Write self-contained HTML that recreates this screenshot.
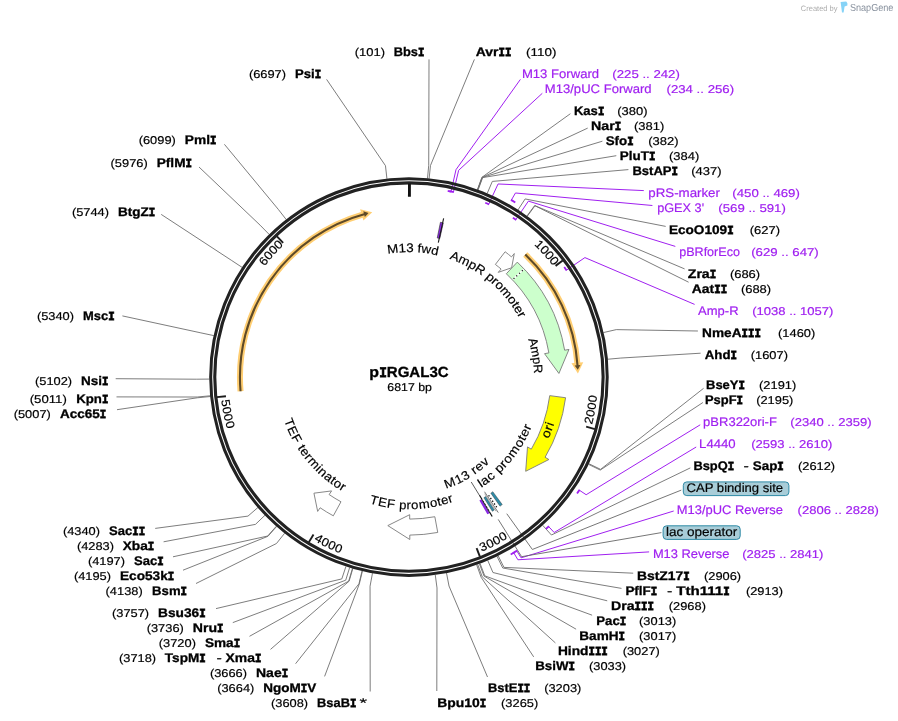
<!DOCTYPE html>
<html><head><meta charset="utf-8"><title>pIRGAL3C</title>
<style>
html,body{margin:0;padding:0;background:#fff;}
svg{display:block;will-change:transform;font-family:"Liberation Sans",sans-serif;text-rendering:geometricPrecision;}
</style></head><body>
<svg width="898" height="721" viewBox="0 0 898 721">
<rect width="898" height="721" fill="#fff"/>
<defs><path id="tp1" d="M526.93 238.52 A182 182 0 0 1 558.87 273.91"/><path id="tp2" d="M581.32 432 A180.9 180.9 0 0 0 589.67 385.19"/><path id="tp3" d="M469.4 547.6 A180.9 180.9 0 0 0 511.74 525.96"/><path id="tp4" d="M309.67 528.32 A180.9 180.9 0 0 0 352.5 548.97"/><path id="tp5" d="M228.47 389.42 A180.9 180.9 0 0 0 237.92 436.02"/><path id="tp6" d="M258.88 274.13 A182 182 0 0 1 290.76 238.7"/><path id="tp7" d="M381.43 255.17 A125 125 0 0 1 444.08 257.14"/><path id="tp8" d="M443.02 256.83 A125 125 0 0 1 522.22 324.24"/><path id="tp9" d="M525.92 333.03 A125 125 0 0 1 533.91 380.25"/><path id="tp10" d="M537.29 442.41 A144 144 0 0 0 548.15 413.96"/><path id="tp11" d="M470.99 484.12 A123.7 123.7 0 0 0 525.97 417.19"/><path id="tp12" d="M437.51 482.29 A109 109 0 0 0 488.03 452.12"/><path id="tp13" d="M365.51 492.81 A123.6 123.6 0 0 0 456.8 491.06"/><path id="tp14" d="M290.13 411.14 A123.6 123.6 0 0 0 352.87 487.24"/></defs>
<g fill="none" stroke="#6e6e6e" stroke-width="0.9"><path d="M474.4 59.4 L430.48 165.49 L429.14 178.62"/><path d="M570.4 113.7 L481.93 177.31 L477.4 189.71"/><path d="M587.7 128.1 L482.12 177.38 L477.58 189.77"/><path d="M602.4 141.2 L482.3 177.45 L477.75 189.84"/><path d="M616.3 155.7 L482.67 177.58 L478.09 189.97"/><path d="M628.4 169.6 L492.32 181.42 L487.15 193.57"/><path d="M665.7 226.4 L525.14 198.94 L517.93 210"/><path d="M684.6 268.9 L534.65 205.52 L526.85 216.17"/><path d="M688.6 282.2 L534.97 205.75 L527.15 216.38"/><path d="M697.9 331 L616.28 329.62 L603.42 332.57"/><path d="M700.6 353.2 L620.8 358.06 L607.65 359.24"/><path d="M703.6 388.3 L600.6 469.36 L588.71 463.63"/><path d="M702.9 402.5 L600.26 470.06 L588.39 464.29"/><path d="M690.3 467.9 L551.45 535.01 L542.6 525.21"/><path d="M633.2 573.2 L503.98 567.39 L498.08 555.58"/><path d="M621.5 588.4 L502.75 568 L496.93 556.15"/><path d="M607.2 600.8 L492.95 572.51 L487.74 560.38"/><path d="M592.1 615.2 L484.78 575.82 L480.07 563.49"/><path d="M576.1 629.2 L484.05 576.1 L479.39 563.75"/><path d="M555.4 642.9 L482.21 576.79 L477.66 564.39"/><path d="M533.7 656.9 L481.1 577.19 L476.63 564.77"/><path d="M487.5 677 L449 586 L446.51 573.03"/><path d="M436.8 691 L437 587.94 L435.26 574.86"/><path d="M429 59.4 L428.72 165.32 L427.49 178.46"/><path d="M326.6 79.4 L385.47 165.7 L386.93 178.82"/><path d="M224.4 144.3 L278.24 209.3 L286.35 219.71"/><path d="M199 167 L260.1 225.16 L269.34 234.59"/><path d="M161.2 214.4 L231.25 260.21 L242.27 267.47"/><path d="M122.4 315.9 L200.9 332.87 L213.81 335.62"/><path d="M115.7 378.7 L196.26 379.21 L209.46 379.08"/><path d="M116.5 396.9 L197.18 397.02 L210.33 395.78"/><path d="M117 409.7 L197.26 397.8 L210.4 396.51"/><path d="M155.2 528.4 L247.96 516.11 L257.95 507.48"/><path d="M163.6 541.8 L255.48 524.37 L265 515.23"/><path d="M173 556.8 L267.62 536.06 L276.39 526.19"/><path d="M183 570.2 L267.92 536.32 L276.67 526.44"/><path d="M196 583.5 L276.47 543.5 L284.69 533.18"/><path d="M216 608.6 L341.8 578.92 L345.96 566.4"/><path d="M232.8 622.6 L345.72 580.18 L349.64 567.58"/><path d="M249.5 636.3 L348.72 581.09 L352.46 568.43"/><path d="M270.5 649.4 L349.09 581.2 L352.81 568.54"/><path d="M295.6 663.7 L358.94 583.84 L362.04 571.01"/><path d="M324.6 676.4 L359.32 583.93 L362.4 571.09"/><path d="M370.2 691.5 L370.06 586.21 L372.47 573.24"/></g>
<g fill="none" stroke="#a020f0" stroke-width="1"><path d="M520.4 79.4 L456 169.67 L451.05 191.51"/><path d="M542.3 93.3 L458.67 170.29 L453.44 192.07"/><path d="M643.8 190.6 L498.06 183.97 L488.67 204.3"/><path d="M652.4 205.5 L515.46 192.99 L511.35 200.08"/><path d="M675.3 246.4 L528.41 201.11 L515.83 219.65"/><path d="M694.6 304.4 L584.91 257.6 L566.38 270.19"/><path d="M700.2 424.8 L586.17 494.72 L579.33 490.19"/><path d="M696.2 447 L554.19 532.49 L548.59 526.5"/><path d="M673.7 511 L521.09 557.84 L516.77 550.87"/><path d="M649.1 551.9 L517.91 559.77 L513.71 552.73"/></g>
<g fill="none" stroke="#666" stroke-width="0.9"><path d="M681.3 490.1 L532.36 549.48 L506.75 513.7"/><path d="M661.4 532.6 L521.61 556.69 L498.22 519.42"/></g>
<circle cx="408.95" cy="377.1" r="198.28" fill="none" stroke="#222" stroke-width="3.0"/><circle cx="408.95" cy="377.1" r="194.18" fill="none" stroke="#222" stroke-width="3.1"/>
<g fill="none" stroke="#a020f0" stroke-width="1.8"><path d="M447.71 190.79 A190.3 190.3 0 0 1 451.47 191.61"/><path d="M449.25 191.12 A190.3 190.3 0 0 1 453.86 192.17"/><path d="M485.24 202.76 A190.3 190.3 0 0 1 489.07 204.49"/><path d="M510.95 199.85 A204.5 204.5 0 0 1 515.31 202.44"/><path d="M512.84 217.66 A190.3 190.3 0 0 1 516.18 219.89"/><path d="M564.23 267.1 A190.3 190.3 0 0 1 566.62 270.55"/><path d="M579.59 489.8 A204.5 204.5 0 0 1 577.06 493.54"/><path d="M548.93 526.18 A204.5 204.5 0 0 1 545.89 528.98"/><path d="M517.16 550.63 A204.5 204.5 0 0 1 512.82 553.26"/><path d="M514.1 552.49 A204.5 204.5 0 0 1 510.7 554.49"/></g>
<path d="M409.46 183.6 L409.42 196.7" stroke="#111" stroke-width="2.9"/><path d="M562.7 260.44 L555.53 265.88" stroke="#1c1c1c" stroke-width="1.9"/><path d="M594.82 429.06 L586.16 426.64" stroke="#1c1c1c" stroke-width="1.9"/><path d="M479.91 556.58 L476.6 548.21" stroke="#1c1c1c" stroke-width="1.9"/><path d="M308.87 542.12 L313.53 534.43" stroke="#1c1c1c" stroke-width="1.9"/><path d="M216.99 397.12 L225.94 396.19" stroke="#1c1c1c" stroke-width="1.9"/><path d="M276.97 236.28 L283.12 242.85" stroke="#1c1c1c" stroke-width="1.9"/>
<path d="M525.28 254.51 A169 169 0 0 1 577.41 363.66" fill="none" stroke="#ffce72" stroke-width="6.0"/><path d="M577.91 373.56 L583.22 362.28 L571.46 363.28Z" fill="#ffce72"/><path d="M525.28 254.51 A169 169 0 0 1 577.59 366.05" fill="none" stroke="#5e4a28" stroke-width="2.1"/><path d="M577.79 369.76 L580.42 364.97 L574.64 365.38Z" fill="#5e4a28"/><path d="M240.54 391.24 A169 169 0 0 1 362.62 214.58" fill="none" stroke="#ffce72" stroke-width="6.0"/><path d="M372.23 212.14 L360.12 209.15 L363.42 220.49Z" fill="#ffce72"/><path d="M240.54 391.24 A169 169 0 0 1 364.93 213.93" fill="none" stroke="#5e4a28" stroke-width="2.1"/><path d="M368.53 213.01 L363.31 211.37 L364.85 216.96Z" fill="#5e4a28"/>
<path d="M495.39 264.44 L505.13 251.75 A158 158 0 0 1 511.46 256.87 L514.31 253.52 L511.63 267.75 L498.22 272.39 L501.08 269.04 A142 142 0 0 0 495.39 264.44Z" fill="#fff" stroke="#7a7a7a" stroke-width="0.9" stroke-linejoin="miter"/><path d="M506.34 273.76 L517.31 262.11 A158 158 0 0 1 564.64 350.2 L568.98 349.45 L558.91 373.44 L544.54 353.67 L548.88 352.92 A142 142 0 0 0 506.34 273.76Z" fill="#ccffcc" stroke="#7a7a7a" stroke-width="0.9" stroke-linejoin="miter"/><path d="M512.9 279.48 L523.69 269.35" stroke="#fff" stroke-width="1.4"/><path d="M513.56 278.87 L523.69 269.35" stroke="#111" stroke-width="1.2" stroke-dasharray="1.2 2.6"/><path d="M549.74 395.63 L565.6 397.72 A158 158 0 0 1 545.09 457.28 L548.88 459.52 L525.69 471.29 L527.51 446.93 L531.31 449.16 A142 142 0 0 0 549.74 395.63Z" fill="#ffff00" stroke="#7a7a7a" stroke-width="0.9" stroke-linejoin="miter"/><path d="M434.83 516.72 L437.74 532.45 A158 158 0 0 1 409.79 535.1 L409.81 539.5 L387.81 525.6 L409.68 514.7 L409.7 519.1 A142 142 0 0 0 434.83 516.72Z" fill="#fff" stroke="#7a7a7a" stroke-width="0.9" stroke-linejoin="miter"/><path d="M340.98 501.77 L333.32 515.82 A158 158 0 0 1 320.14 507.78 L317.67 511.42 L313.94 493.18 L331.61 490.91 L329.13 494.55 A142 142 0 0 0 340.98 501.77Z" fill="#fff" stroke="#7a7a7a" stroke-width="0.9" stroke-linejoin="miter"/><path d="M492.82 491.69 L502.27 504.6 A158 158 0 0 1 500.03 506.21 L490.8 493.13 A142 142 0 0 0 492.82 491.69Z" fill="#2f8ca8" stroke="#3a3a3a" stroke-width="0.45"/><path d="M488.63 495.24 L497.3 508.09" stroke="#111" stroke-width="1.3" stroke-dasharray="1.3 2.0" fill="none"/><path d="M484.53 491.72 L498.29 512.6" stroke="#555" stroke-width="0.8"/><path d="M484.65 493.68 L496.09 511.29" stroke="#777" stroke-width="0.6"/><path d="M485.66 496.59 L494.31 510.06 A158 158 0 0 1 492.33 511.31 L483.88 497.72 A142 142 0 0 0 485.66 496.59Z" fill="#2f8ca8" stroke="#3a3a3a" stroke-width="0.45"/><path d="M481.45 499.2 L489.62 512.96 A158 158 0 0 1 487.35 514.28 L479.41 500.38 A142 142 0 0 0 481.45 499.2Z" fill="#8a2be2"/><path d="M471.24 482 L479.61 495.64" stroke="#333" stroke-width="0.8"/><path d="M479.51 495.23 L492.18 516.44" stroke="#111" stroke-width="1.2"/><path d="M482.71 499.61 L490.44 512.46" stroke="#fff" stroke-width="1.0" stroke-dasharray="1.2 2.0"/><path d="M437.26 237.95 L440.45 222.27 A158 158 0 0 1 443.28 222.88 L439.81 238.49 A142 142 0 0 0 437.26 237.95Z" fill="#8a2be2" stroke="#2a2a2a" stroke-width="0.6"/><path d="M438.31 242.67 L443.62 218.34" stroke="#1a1a1a" stroke-width="1.1"/>
<text font-size="11.92" fill="#000" stroke="#000" stroke-width="0.18"><textPath href="#tp1" startOffset="9.53" textLength="28.75" lengthAdjust="spacingAndGlyphs">1000</textPath></text><text font-size="11.92" fill="#000" stroke="#000" stroke-width="0.18" dy="8.22"><textPath href="#tp2" startOffset="9.47" textLength="28.75" lengthAdjust="spacingAndGlyphs">2000</textPath></text><text font-size="11.92" fill="#000" stroke="#000" stroke-width="0.18" dy="8.22"><textPath href="#tp3" startOffset="9.47" textLength="28.75" lengthAdjust="spacingAndGlyphs">3000</textPath></text><text font-size="11.92" fill="#000" stroke="#000" stroke-width="0.18" dy="8.22"><textPath href="#tp4" startOffset="9.47" textLength="28.75" lengthAdjust="spacingAndGlyphs">4000</textPath></text><text font-size="11.92" fill="#000" stroke="#000" stroke-width="0.18" dy="8.22"><textPath href="#tp5" startOffset="9.47" textLength="28.75" lengthAdjust="spacingAndGlyphs">5000</textPath></text><text font-size="11.92" fill="#000" stroke="#000" stroke-width="0.18"><textPath href="#tp6" startOffset="9.53" textLength="28.75" lengthAdjust="spacingAndGlyphs">6000</textPath></text><text font-size="12.45" fill="#000" stroke="#000" stroke-width="0.18"><textPath href="#tp7" startOffset="6.54" textLength="50.27" lengthAdjust="spacingAndGlyphs">M13 fwd</textPath></text><text font-size="12.45" fill="#000" stroke="#000" stroke-width="0.18"><textPath href="#tp8" startOffset="6.54" textLength="94.18" lengthAdjust="spacingAndGlyphs">AmpR promoter</textPath></text><text font-size="12.45" fill="#000" stroke="#000" stroke-width="0.18"><textPath href="#tp9" startOffset="6.54" textLength="35.11" lengthAdjust="spacingAndGlyphs">AmpR</textPath></text><text font-size="12.45" fill="#000" stroke="#000" stroke-width="0.18" dy="8.58"><textPath href="#tp10" startOffset="7.54" textLength="15.43" lengthAdjust="spacingAndGlyphs">ori</textPath></text><text font-size="12.45" fill="#000" stroke="#000" stroke-width="0.18" dy="8.58"><textPath href="#tp11" startOffset="6.48" textLength="75.54" lengthAdjust="spacingAndGlyphs">lac promoter</textPath></text><text font-size="12.45" fill="#000" stroke="#000" stroke-width="0.18" dy="8.58"><textPath href="#tp12" startOffset="5.71" textLength="48.17" lengthAdjust="spacingAndGlyphs">M13 rev</textPath></text><text font-size="12.45" fill="#000" stroke="#000" stroke-width="0.18" dy="8.58"><textPath href="#tp13" startOffset="6.47" textLength="80.58" lengthAdjust="spacingAndGlyphs">TEF promoter</textPath></text><text font-size="12.45" fill="#000" stroke="#000" stroke-width="0.18" dy="8.58"><textPath href="#tp14" startOffset="6.47" textLength="88.51" lengthAdjust="spacingAndGlyphs">TEF terminator</textPath></text>
<text x="475.8" y="55.9" font-size="12.45" font-weight="bold" fill="#000" stroke="#000" stroke-width="0.3" textLength="22.69" lengthAdjust="spacingAndGlyphs">Avr</text>
<text x="498.49" y="55.9" font-size="12.26" font-weight="bold" font-family="Liberation Mono" fill="#000" stroke="#000" stroke-width="0.75" textLength="12.89" lengthAdjust="spacingAndGlyphs">II</text>
<text x="526.1" y="55.9" font-size="11.34" fill="#000" stroke="#000" stroke-width="0.18" textLength="30.27" lengthAdjust="spacingAndGlyphs">(110)</text>
<text x="521.9" y="77.89" font-size="12.45" fill="#a020f0" stroke="#a020f0" stroke-width="0.18" textLength="77.23" lengthAdjust="spacingAndGlyphs">M13 Forward</text>
<text x="612.3" y="77.89" font-size="11.34" fill="#a020f0" stroke="#a020f0" stroke-width="0.18" textLength="67.58" lengthAdjust="spacingAndGlyphs">(225 .. 242)</text>
<text x="544.8" y="92.89" font-size="12.45" fill="#a020f0" stroke="#a020f0" stroke-width="0.18" textLength="106.81" lengthAdjust="spacingAndGlyphs">M13/pUC Forward</text>
<text x="666.5" y="92.89" font-size="11.34" fill="#a020f0" stroke="#a020f0" stroke-width="0.18" textLength="67.58" lengthAdjust="spacingAndGlyphs">(234 .. 256)</text>
<text x="573.9" y="114.88" font-size="12.45" font-weight="bold" fill="#000" stroke="#000" stroke-width="0.3" textLength="23.98" lengthAdjust="spacingAndGlyphs">Kas</text>
<text x="597.88" y="114.88" font-size="12.26" font-weight="bold" font-family="Liberation Mono" fill="#000" stroke="#000" stroke-width="0.75" textLength="6.44" lengthAdjust="spacingAndGlyphs">I</text>
<text x="617.2" y="114.88" font-size="11.34" fill="#000" stroke="#000" stroke-width="0.18" textLength="30.27" lengthAdjust="spacingAndGlyphs">(380)</text>
<text x="591" y="129.88" font-size="12.45" font-weight="bold" fill="#000" stroke="#000" stroke-width="0.3" textLength="23.74" lengthAdjust="spacingAndGlyphs">Nar</text>
<text x="614.74" y="129.88" font-size="12.26" font-weight="bold" font-family="Liberation Mono" fill="#000" stroke="#000" stroke-width="0.75" textLength="6.44" lengthAdjust="spacingAndGlyphs">I</text>
<text x="634" y="129.88" font-size="11.34" fill="#000" stroke="#000" stroke-width="0.18" textLength="30.27" lengthAdjust="spacingAndGlyphs">(381)</text>
<text x="605.7" y="144.87" font-size="12.45" font-weight="bold" fill="#000" stroke="#000" stroke-width="0.3" textLength="21.46" lengthAdjust="spacingAndGlyphs">Sfo</text>
<text x="627.16" y="144.87" font-size="12.26" font-weight="bold" font-family="Liberation Mono" fill="#000" stroke="#000" stroke-width="0.75" textLength="6.44" lengthAdjust="spacingAndGlyphs">I</text>
<text x="648.2" y="144.87" font-size="11.34" fill="#000" stroke="#000" stroke-width="0.18" textLength="30.27" lengthAdjust="spacingAndGlyphs">(382)</text>
<text x="619.8" y="159.87" font-size="12.45" font-weight="bold" fill="#000" stroke="#000" stroke-width="0.3" textLength="29.13" lengthAdjust="spacingAndGlyphs">PluT</text>
<text x="648.93" y="159.87" font-size="12.26" font-weight="bold" font-family="Liberation Mono" fill="#000" stroke="#000" stroke-width="0.75" textLength="6.44" lengthAdjust="spacingAndGlyphs">I</text>
<text x="669" y="159.87" font-size="11.34" fill="#000" stroke="#000" stroke-width="0.18" textLength="30.27" lengthAdjust="spacingAndGlyphs">(384)</text>
<text x="632.4" y="174.86" font-size="12.45" font-weight="bold" fill="#000" stroke="#000" stroke-width="0.3" textLength="39.18" lengthAdjust="spacingAndGlyphs">BstAP</text>
<text x="671.58" y="174.86" font-size="12.26" font-weight="bold" font-family="Liberation Mono" fill="#000" stroke="#000" stroke-width="0.75" textLength="6.44" lengthAdjust="spacingAndGlyphs">I</text>
<text x="691.3" y="174.86" font-size="11.34" fill="#000" stroke="#000" stroke-width="0.18" textLength="30.27" lengthAdjust="spacingAndGlyphs">(437)</text>
<text x="648.3" y="196.86" font-size="12.45" fill="#a020f0" stroke="#a020f0" stroke-width="0.18" textLength="71.65" lengthAdjust="spacingAndGlyphs">pRS-marker</text>
<text x="732.3" y="196.86" font-size="11.34" fill="#a020f0" stroke="#a020f0" stroke-width="0.18" textLength="67.58" lengthAdjust="spacingAndGlyphs">(450 .. 469)</text>
<text x="657.2" y="211.85" font-size="12.45" fill="#a020f0" stroke="#a020f0" stroke-width="0.18" textLength="46.87" lengthAdjust="spacingAndGlyphs">pGEX 3&#39;</text>
<text x="718.3" y="211.85" font-size="11.34" fill="#a020f0" stroke="#a020f0" stroke-width="0.18" textLength="67.58" lengthAdjust="spacingAndGlyphs">(569 .. 591)</text>
<text x="668.9" y="233.85" font-size="12.45" font-weight="bold" fill="#000" stroke="#000" stroke-width="0.3" textLength="58.3" lengthAdjust="spacingAndGlyphs">EcoO109</text>
<text x="727.2" y="233.85" font-size="12.26" font-weight="bold" font-family="Liberation Mono" fill="#000" stroke="#000" stroke-width="0.75" textLength="6.44" lengthAdjust="spacingAndGlyphs">I</text>
<text x="749.8" y="233.85" font-size="11.34" fill="#000" stroke="#000" stroke-width="0.18" textLength="30.27" lengthAdjust="spacingAndGlyphs">(627)</text>
<text x="679.2" y="255.84" font-size="12.45" fill="#a020f0" stroke="#a020f0" stroke-width="0.18" textLength="60.77" lengthAdjust="spacingAndGlyphs">pBRforEco</text>
<text x="751.2" y="255.84" font-size="11.34" fill="#a020f0" stroke="#a020f0" stroke-width="0.18" textLength="67.58" lengthAdjust="spacingAndGlyphs">(629 .. 647)</text>
<text x="687.8" y="277.83" font-size="12.45" font-weight="bold" fill="#000" stroke="#000" stroke-width="0.3" textLength="21.91" lengthAdjust="spacingAndGlyphs">Zra</text>
<text x="709.71" y="277.83" font-size="12.26" font-weight="bold" font-family="Liberation Mono" fill="#000" stroke="#000" stroke-width="0.75" textLength="6.44" lengthAdjust="spacingAndGlyphs">I</text>
<text x="729.9" y="277.83" font-size="11.34" fill="#000" stroke="#000" stroke-width="0.18" textLength="30.27" lengthAdjust="spacingAndGlyphs">(686)</text>
<text x="691.8" y="292.83" font-size="12.45" font-weight="bold" fill="#000" stroke="#000" stroke-width="0.3" textLength="22.42" lengthAdjust="spacingAndGlyphs">Aat</text>
<text x="714.22" y="292.83" font-size="12.26" font-weight="bold" font-family="Liberation Mono" fill="#000" stroke="#000" stroke-width="0.75" textLength="12.89" lengthAdjust="spacingAndGlyphs">II</text>
<text x="740.9" y="292.83" font-size="11.34" fill="#000" stroke="#000" stroke-width="0.18" textLength="30.27" lengthAdjust="spacingAndGlyphs">(688)</text>
<text x="698.1" y="314.82" font-size="12.45" fill="#a020f0" stroke="#a020f0" stroke-width="0.18" textLength="40.46" lengthAdjust="spacingAndGlyphs">Amp-R</text>
<text x="752.2" y="314.82" font-size="11.34" fill="#a020f0" stroke="#a020f0" stroke-width="0.18" textLength="81.25" lengthAdjust="spacingAndGlyphs">(1038 .. 1057)</text>
<text x="702.1" y="336.82" font-size="12.45" font-weight="bold" fill="#000" stroke="#000" stroke-width="0.3" textLength="39.47" lengthAdjust="spacingAndGlyphs">NmeA</text>
<text x="741.57" y="336.82" font-size="12.26" font-weight="bold" font-family="Liberation Mono" fill="#000" stroke="#000" stroke-width="0.75" textLength="19.33" lengthAdjust="spacingAndGlyphs">III</text>
<text x="778.1" y="336.82" font-size="11.34" fill="#000" stroke="#000" stroke-width="0.18" textLength="37.11" lengthAdjust="spacingAndGlyphs">(1460)</text>
<text x="704.7" y="358.81" font-size="12.45" font-weight="bold" fill="#000" stroke="#000" stroke-width="0.3" textLength="25.81" lengthAdjust="spacingAndGlyphs">Ahd</text>
<text x="730.51" y="358.81" font-size="12.26" font-weight="bold" font-family="Liberation Mono" fill="#000" stroke="#000" stroke-width="0.75" textLength="6.44" lengthAdjust="spacingAndGlyphs">I</text>
<text x="750.8" y="358.81" font-size="11.34" fill="#000" stroke="#000" stroke-width="0.18" textLength="37.11" lengthAdjust="spacingAndGlyphs">(1607)</text>
<text x="706" y="388.8" font-size="12.45" font-weight="bold" fill="#000" stroke="#000" stroke-width="0.3" textLength="32.52" lengthAdjust="spacingAndGlyphs">BseY</text>
<text x="738.52" y="388.8" font-size="12.26" font-weight="bold" font-family="Liberation Mono" fill="#000" stroke="#000" stroke-width="0.75" textLength="6.44" lengthAdjust="spacingAndGlyphs">I</text>
<text x="759.1" y="388.8" font-size="11.34" fill="#000" stroke="#000" stroke-width="0.18" textLength="37.11" lengthAdjust="spacingAndGlyphs">(2191)</text>
<text x="705" y="403.8" font-size="12.45" font-weight="bold" fill="#000" stroke="#000" stroke-width="0.3" textLength="31.57" lengthAdjust="spacingAndGlyphs">PspF</text>
<text x="736.57" y="403.8" font-size="12.26" font-weight="bold" font-family="Liberation Mono" fill="#000" stroke="#000" stroke-width="0.75" textLength="6.44" lengthAdjust="spacingAndGlyphs">I</text>
<text x="756.2" y="403.8" font-size="11.34" fill="#000" stroke="#000" stroke-width="0.18" textLength="37.11" lengthAdjust="spacingAndGlyphs">(2195)</text>
<text x="703.1" y="425.79" font-size="12.45" fill="#a020f0" stroke="#a020f0" stroke-width="0.18" textLength="73.74" lengthAdjust="spacingAndGlyphs">pBR322ori-F</text>
<text x="790.3" y="425.79" font-size="11.34" fill="#a020f0" stroke="#a020f0" stroke-width="0.18" textLength="81.25" lengthAdjust="spacingAndGlyphs">(2340 .. 2359)</text>
<text x="699.1" y="447.78" font-size="12.45" fill="#a020f0" stroke="#a020f0" stroke-width="0.18" textLength="36.59" lengthAdjust="spacingAndGlyphs">L4440</text>
<text x="751.2" y="447.78" font-size="11.34" fill="#a020f0" stroke="#a020f0" stroke-width="0.18" textLength="81.25" lengthAdjust="spacingAndGlyphs">(2593 .. 2610)</text>
<text x="693.4" y="469.78" font-size="12.45" font-weight="bold" fill="#000" stroke="#000" stroke-width="0.3" textLength="34.27" lengthAdjust="spacingAndGlyphs">BspQ</text>
<text x="727.67" y="469.78" font-size="12.26" font-weight="bold" font-family="Liberation Mono" fill="#000" stroke="#000" stroke-width="0.75" textLength="6.44" lengthAdjust="spacingAndGlyphs">I</text>
<text x="743.4" y="469.78" font-size="12.45" fill="#000" stroke="#000" stroke-width="0.18" textLength="5.36" lengthAdjust="spacingAndGlyphs">-</text>
<text x="752.8" y="469.78" font-size="12.45" font-weight="bold" fill="#000" stroke="#000" stroke-width="0.3" textLength="24.51" lengthAdjust="spacingAndGlyphs">Sap</text>
<text x="777.31" y="469.78" font-size="12.26" font-weight="bold" font-family="Liberation Mono" fill="#000" stroke="#000" stroke-width="0.75" textLength="6.44" lengthAdjust="spacingAndGlyphs">I</text>
<text x="798" y="469.78" font-size="11.34" fill="#000" stroke="#000" stroke-width="0.18" textLength="37.11" lengthAdjust="spacingAndGlyphs">(2612)</text>
<text x="676.8" y="513.76" font-size="12.45" fill="#a020f0" stroke="#a020f0" stroke-width="0.18" textLength="106.16" lengthAdjust="spacingAndGlyphs">M13/pUC Reverse</text>
<text x="797.6" y="513.76" font-size="11.34" fill="#a020f0" stroke="#a020f0" stroke-width="0.18" textLength="81.25" lengthAdjust="spacingAndGlyphs">(2806 .. 2828)</text>
<text x="652.9" y="557.75" font-size="12.45" fill="#a020f0" stroke="#a020f0" stroke-width="0.18" textLength="76.58" lengthAdjust="spacingAndGlyphs">M13 Reverse</text>
<text x="742.2" y="557.75" font-size="11.34" fill="#a020f0" stroke="#a020f0" stroke-width="0.18" textLength="81.25" lengthAdjust="spacingAndGlyphs">(2825 .. 2841)</text>
<text x="637" y="579.74" font-size="12.45" font-weight="bold" fill="#000" stroke="#000" stroke-width="0.3" textLength="46.31" lengthAdjust="spacingAndGlyphs">BstZ17</text>
<text x="683.32" y="579.74" font-size="12.26" font-weight="bold" font-family="Liberation Mono" fill="#000" stroke="#000" stroke-width="0.75" textLength="6.44" lengthAdjust="spacingAndGlyphs">I</text>
<text x="704" y="579.74" font-size="11.34" fill="#000" stroke="#000" stroke-width="0.18" textLength="37.11" lengthAdjust="spacingAndGlyphs">(2906)</text>
<text x="625.4" y="594.74" font-size="12.45" font-weight="bold" fill="#000" stroke="#000" stroke-width="0.3" textLength="25.33" lengthAdjust="spacingAndGlyphs">PflF</text>
<text x="650.73" y="594.74" font-size="12.26" font-weight="bold" font-family="Liberation Mono" fill="#000" stroke="#000" stroke-width="0.75" textLength="6.44" lengthAdjust="spacingAndGlyphs">I</text>
<text x="666.9" y="594.74" font-size="12.45" fill="#000" stroke="#000" stroke-width="0.18" textLength="5.36" lengthAdjust="spacingAndGlyphs">-</text>
<text x="676.2" y="594.74" font-size="12.45" font-weight="bold" fill="#000" stroke="#000" stroke-width="0.3" textLength="47" lengthAdjust="spacingAndGlyphs">Tth111</text>
<text x="723.2" y="594.74" font-size="12.26" font-weight="bold" font-family="Liberation Mono" fill="#000" stroke="#000" stroke-width="0.75" textLength="6.44" lengthAdjust="spacingAndGlyphs">I</text>
<text x="745.9" y="594.74" font-size="11.34" fill="#000" stroke="#000" stroke-width="0.18" textLength="37.11" lengthAdjust="spacingAndGlyphs">(2913)</text>
<text x="611" y="609.73" font-size="12.45" font-weight="bold" fill="#000" stroke="#000" stroke-width="0.3" textLength="23.54" lengthAdjust="spacingAndGlyphs">Dra</text>
<text x="634.54" y="609.73" font-size="12.26" font-weight="bold" font-family="Liberation Mono" fill="#000" stroke="#000" stroke-width="0.75" textLength="19.33" lengthAdjust="spacingAndGlyphs">III</text>
<text x="668.8" y="609.73" font-size="11.34" fill="#000" stroke="#000" stroke-width="0.18" textLength="37.11" lengthAdjust="spacingAndGlyphs">(2968)</text>
<text x="596.3" y="624.73" font-size="12.45" font-weight="bold" fill="#000" stroke="#000" stroke-width="0.3" textLength="23.47" lengthAdjust="spacingAndGlyphs">Pac</text>
<text x="619.77" y="624.73" font-size="12.26" font-weight="bold" font-family="Liberation Mono" fill="#000" stroke="#000" stroke-width="0.75" textLength="6.44" lengthAdjust="spacingAndGlyphs">I</text>
<text x="639.1" y="624.73" font-size="11.34" fill="#000" stroke="#000" stroke-width="0.18" textLength="37.11" lengthAdjust="spacingAndGlyphs">(3013)</text>
<text x="579.3" y="639.72" font-size="12.45" font-weight="bold" fill="#000" stroke="#000" stroke-width="0.3" textLength="39.24" lengthAdjust="spacingAndGlyphs">BamH</text>
<text x="618.53" y="639.72" font-size="12.26" font-weight="bold" font-family="Liberation Mono" fill="#000" stroke="#000" stroke-width="0.75" textLength="6.44" lengthAdjust="spacingAndGlyphs">I</text>
<text x="639.1" y="639.72" font-size="11.34" fill="#000" stroke="#000" stroke-width="0.18" textLength="37.11" lengthAdjust="spacingAndGlyphs">(3017)</text>
<text x="557.9" y="654.72" font-size="12.45" font-weight="bold" fill="#000" stroke="#000" stroke-width="0.3" textLength="30.56" lengthAdjust="spacingAndGlyphs">Hind</text>
<text x="588.46" y="654.72" font-size="12.26" font-weight="bold" font-family="Liberation Mono" fill="#000" stroke="#000" stroke-width="0.75" textLength="19.33" lengthAdjust="spacingAndGlyphs">III</text>
<text x="622.7" y="654.72" font-size="11.34" fill="#000" stroke="#000" stroke-width="0.18" textLength="37.11" lengthAdjust="spacingAndGlyphs">(3027)</text>
<text x="535.2" y="669.72" font-size="12.45" font-weight="bold" fill="#000" stroke="#000" stroke-width="0.3" textLength="33.34" lengthAdjust="spacingAndGlyphs">BsiW</text>
<text x="568.54" y="669.72" font-size="12.26" font-weight="bold" font-family="Liberation Mono" fill="#000" stroke="#000" stroke-width="0.75" textLength="6.44" lengthAdjust="spacingAndGlyphs">I</text>
<text x="589" y="669.72" font-size="11.34" fill="#000" stroke="#000" stroke-width="0.18" textLength="37.11" lengthAdjust="spacingAndGlyphs">(3033)</text>
<text x="488" y="691.71" font-size="12.45" font-weight="bold" fill="#000" stroke="#000" stroke-width="0.3" textLength="29.43" lengthAdjust="spacingAndGlyphs">BstE</text>
<text x="517.43" y="691.71" font-size="12.26" font-weight="bold" font-family="Liberation Mono" fill="#000" stroke="#000" stroke-width="0.75" textLength="12.89" lengthAdjust="spacingAndGlyphs">II</text>
<text x="544.2" y="691.71" font-size="11.34" fill="#000" stroke="#000" stroke-width="0.18" textLength="37.11" lengthAdjust="spacingAndGlyphs">(3203)</text>
<text x="437.3" y="706.7" font-size="12.45" font-weight="bold" fill="#000" stroke="#000" stroke-width="0.3" textLength="42.42" lengthAdjust="spacingAndGlyphs">Bpu10</text>
<text x="479.72" y="706.7" font-size="12.26" font-weight="bold" font-family="Liberation Mono" fill="#000" stroke="#000" stroke-width="0.75" textLength="6.44" lengthAdjust="spacingAndGlyphs">I</text>
<text x="501.1" y="706.7" font-size="11.34" fill="#000" stroke="#000" stroke-width="0.18" textLength="37.11" lengthAdjust="spacingAndGlyphs">(3265)</text>
<text x="354.7" y="55.9" font-size="11.34" fill="#000" stroke="#000" stroke-width="0.18" textLength="30.27" lengthAdjust="spacingAndGlyphs">(101)</text>
<text x="393.7" y="55.9" font-size="12.45" font-weight="bold" fill="#000" stroke="#000" stroke-width="0.3" textLength="24.24" lengthAdjust="spacingAndGlyphs">Bbs</text>
<text x="417.94" y="55.9" font-size="12.26" font-weight="bold" font-family="Liberation Mono" fill="#000" stroke="#000" stroke-width="0.75" textLength="6.44" lengthAdjust="spacingAndGlyphs">I</text>
<text x="248.9" y="78.4" font-size="11.34" fill="#000" stroke="#000" stroke-width="0.18" textLength="37.11" lengthAdjust="spacingAndGlyphs">(6697)</text>
<text x="295" y="78.4" font-size="12.45" font-weight="bold" fill="#000" stroke="#000" stroke-width="0.3" textLength="19.68" lengthAdjust="spacingAndGlyphs">Psi</text>
<text x="314.68" y="78.4" font-size="12.26" font-weight="bold" font-family="Liberation Mono" fill="#000" stroke="#000" stroke-width="0.75" textLength="6.44" lengthAdjust="spacingAndGlyphs">I</text>
<text x="138.7" y="143.6" font-size="11.34" fill="#000" stroke="#000" stroke-width="0.18" textLength="37.11" lengthAdjust="spacingAndGlyphs">(6099)</text>
<text x="184.8" y="143.6" font-size="12.45" font-weight="bold" fill="#000" stroke="#000" stroke-width="0.3" textLength="25.17" lengthAdjust="spacingAndGlyphs">Pml</text>
<text x="209.97" y="143.6" font-size="12.26" font-weight="bold" font-family="Liberation Mono" fill="#000" stroke="#000" stroke-width="0.75" textLength="6.44" lengthAdjust="spacingAndGlyphs">I</text>
<text x="110.6" y="167.3" font-size="11.34" fill="#000" stroke="#000" stroke-width="0.18" textLength="37.11" lengthAdjust="spacingAndGlyphs">(5976)</text>
<text x="156.7" y="167.3" font-size="12.45" font-weight="bold" fill="#000" stroke="#000" stroke-width="0.3" textLength="28.85" lengthAdjust="spacingAndGlyphs">PflM</text>
<text x="185.55" y="167.3" font-size="12.26" font-weight="bold" font-family="Liberation Mono" fill="#000" stroke="#000" stroke-width="0.75" textLength="6.44" lengthAdjust="spacingAndGlyphs">I</text>
<text x="71.9" y="216.4" font-size="11.34" fill="#000" stroke="#000" stroke-width="0.18" textLength="37.11" lengthAdjust="spacingAndGlyphs">(5744)</text>
<text x="118" y="216.4" font-size="12.45" font-weight="bold" fill="#000" stroke="#000" stroke-width="0.3" textLength="30.79" lengthAdjust="spacingAndGlyphs">BtgZ</text>
<text x="148.79" y="216.4" font-size="12.26" font-weight="bold" font-family="Liberation Mono" fill="#000" stroke="#000" stroke-width="0.75" textLength="6.44" lengthAdjust="spacingAndGlyphs">I</text>
<text x="36.9" y="319.9" font-size="11.34" fill="#000" stroke="#000" stroke-width="0.18" textLength="37.11" lengthAdjust="spacingAndGlyphs">(5340)</text>
<text x="83.1" y="319.9" font-size="12.45" font-weight="bold" fill="#000" stroke="#000" stroke-width="0.3" textLength="25.12" lengthAdjust="spacingAndGlyphs">Msc</text>
<text x="108.22" y="319.9" font-size="12.26" font-weight="bold" font-family="Liberation Mono" fill="#000" stroke="#000" stroke-width="0.75" textLength="6.44" lengthAdjust="spacingAndGlyphs">I</text>
<text x="35" y="384.9" font-size="11.34" fill="#000" stroke="#000" stroke-width="0.18" textLength="37.11" lengthAdjust="spacingAndGlyphs">(5102)</text>
<text x="81" y="384.9" font-size="12.45" font-weight="bold" fill="#000" stroke="#000" stroke-width="0.3" textLength="21.03" lengthAdjust="spacingAndGlyphs">Nsi</text>
<text x="102.03" y="384.9" font-size="12.26" font-weight="bold" font-family="Liberation Mono" fill="#000" stroke="#000" stroke-width="0.75" textLength="6.44" lengthAdjust="spacingAndGlyphs">I</text>
<text x="29.7" y="402.8" font-size="11.34" fill="#000" stroke="#000" stroke-width="0.18" textLength="37.11" lengthAdjust="spacingAndGlyphs">(5011)</text>
<text x="76.2" y="402.8" font-size="12.45" font-weight="bold" fill="#000" stroke="#000" stroke-width="0.3" textLength="25.75" lengthAdjust="spacingAndGlyphs">Kpn</text>
<text x="101.95" y="402.8" font-size="12.26" font-weight="bold" font-family="Liberation Mono" fill="#000" stroke="#000" stroke-width="0.75" textLength="6.44" lengthAdjust="spacingAndGlyphs">I</text>
<text x="13.7" y="417.7" font-size="11.34" fill="#000" stroke="#000" stroke-width="0.18" textLength="37.11" lengthAdjust="spacingAndGlyphs">(5007)</text>
<text x="59.9" y="417.7" font-size="12.45" font-weight="bold" fill="#000" stroke="#000" stroke-width="0.3" textLength="39.81" lengthAdjust="spacingAndGlyphs">Acc65</text>
<text x="99.71" y="417.7" font-size="12.26" font-weight="bold" font-family="Liberation Mono" fill="#000" stroke="#000" stroke-width="0.75" textLength="6.44" lengthAdjust="spacingAndGlyphs">I</text>
<text x="62.9" y="534.66" font-size="11.34" fill="#000" stroke="#000" stroke-width="0.18" textLength="37.11" lengthAdjust="spacingAndGlyphs">(4340)</text>
<text x="109" y="534.66" font-size="12.45" font-weight="bold" fill="#000" stroke="#000" stroke-width="0.3" textLength="23.2" lengthAdjust="spacingAndGlyphs">Sac</text>
<text x="132.2" y="534.66" font-size="12.26" font-weight="bold" font-family="Liberation Mono" fill="#000" stroke="#000" stroke-width="0.75" textLength="12.89" lengthAdjust="spacingAndGlyphs">II</text>
<text x="76.9" y="549.65" font-size="11.34" fill="#000" stroke="#000" stroke-width="0.18" textLength="37.11" lengthAdjust="spacingAndGlyphs">(4283)</text>
<text x="122.7" y="549.65" font-size="12.45" font-weight="bold" fill="#000" stroke="#000" stroke-width="0.3" textLength="25.15" lengthAdjust="spacingAndGlyphs">Xba</text>
<text x="147.85" y="549.65" font-size="12.26" font-weight="bold" font-family="Liberation Mono" fill="#000" stroke="#000" stroke-width="0.75" textLength="6.44" lengthAdjust="spacingAndGlyphs">I</text>
<text x="87.9" y="564.65" font-size="11.34" fill="#000" stroke="#000" stroke-width="0.18" textLength="37.11" lengthAdjust="spacingAndGlyphs">(4197)</text>
<text x="134" y="564.65" font-size="12.45" font-weight="bold" fill="#000" stroke="#000" stroke-width="0.3" textLength="23.2" lengthAdjust="spacingAndGlyphs">Sac</text>
<text x="157.2" y="564.65" font-size="12.26" font-weight="bold" font-family="Liberation Mono" fill="#000" stroke="#000" stroke-width="0.75" textLength="6.44" lengthAdjust="spacingAndGlyphs">I</text>
<text x="73.9" y="579.64" font-size="11.34" fill="#000" stroke="#000" stroke-width="0.18" textLength="37.11" lengthAdjust="spacingAndGlyphs">(4195)</text>
<text x="120" y="579.64" font-size="12.45" font-weight="bold" fill="#000" stroke="#000" stroke-width="0.3" textLength="47.8" lengthAdjust="spacingAndGlyphs">Eco53k</text>
<text x="167.8" y="579.64" font-size="12.26" font-weight="bold" font-family="Liberation Mono" fill="#000" stroke="#000" stroke-width="0.75" textLength="6.44" lengthAdjust="spacingAndGlyphs">I</text>
<text x="105.6" y="594.64" font-size="11.34" fill="#000" stroke="#000" stroke-width="0.18" textLength="37.11" lengthAdjust="spacingAndGlyphs">(4138)</text>
<text x="152.1" y="594.64" font-size="12.45" font-weight="bold" fill="#000" stroke="#000" stroke-width="0.3" textLength="28.47" lengthAdjust="spacingAndGlyphs">Bsm</text>
<text x="180.57" y="594.64" font-size="12.26" font-weight="bold" font-family="Liberation Mono" fill="#000" stroke="#000" stroke-width="0.75" textLength="6.44" lengthAdjust="spacingAndGlyphs">I</text>
<text x="112" y="616.63" font-size="11.34" fill="#000" stroke="#000" stroke-width="0.18" textLength="37.11" lengthAdjust="spacingAndGlyphs">(3757)</text>
<text x="158.1" y="616.63" font-size="12.45" font-weight="bold" fill="#000" stroke="#000" stroke-width="0.3" textLength="41.17" lengthAdjust="spacingAndGlyphs">Bsu36</text>
<text x="199.27" y="616.63" font-size="12.26" font-weight="bold" font-family="Liberation Mono" fill="#000" stroke="#000" stroke-width="0.75" textLength="6.44" lengthAdjust="spacingAndGlyphs">I</text>
<text x="146.7" y="631.63" font-size="11.34" fill="#000" stroke="#000" stroke-width="0.18" textLength="37.11" lengthAdjust="spacingAndGlyphs">(3736)</text>
<text x="192.8" y="631.63" font-size="12.45" font-weight="bold" fill="#000" stroke="#000" stroke-width="0.3" textLength="24.26" lengthAdjust="spacingAndGlyphs">Nru</text>
<text x="217.06" y="631.63" font-size="12.26" font-weight="bold" font-family="Liberation Mono" fill="#000" stroke="#000" stroke-width="0.75" textLength="6.44" lengthAdjust="spacingAndGlyphs">I</text>
<text x="158.8" y="646.62" font-size="11.34" fill="#000" stroke="#000" stroke-width="0.18" textLength="37.11" lengthAdjust="spacingAndGlyphs">(3720)</text>
<text x="204.9" y="646.62" font-size="12.45" font-weight="bold" fill="#000" stroke="#000" stroke-width="0.3" textLength="28.74" lengthAdjust="spacingAndGlyphs">Sma</text>
<text x="233.64" y="646.62" font-size="12.26" font-weight="bold" font-family="Liberation Mono" fill="#000" stroke="#000" stroke-width="0.75" textLength="6.44" lengthAdjust="spacingAndGlyphs">I</text>
<text x="119" y="661.62" font-size="11.34" fill="#000" stroke="#000" stroke-width="0.18" textLength="37.11" lengthAdjust="spacingAndGlyphs">(3718)</text>
<text x="164.8" y="661.62" font-size="12.45" font-weight="bold" fill="#000" stroke="#000" stroke-width="0.3" textLength="34.48" lengthAdjust="spacingAndGlyphs">TspM</text>
<text x="199.28" y="661.62" font-size="12.26" font-weight="bold" font-family="Liberation Mono" fill="#000" stroke="#000" stroke-width="0.75" textLength="6.44" lengthAdjust="spacingAndGlyphs">I</text>
<text x="216.5" y="661.62" font-size="12.45" fill="#000" stroke="#000" stroke-width="0.18" textLength="5.36" lengthAdjust="spacingAndGlyphs">-</text>
<text x="225.6" y="661.62" font-size="12.45" font-weight="bold" fill="#000" stroke="#000" stroke-width="0.3" textLength="29.38" lengthAdjust="spacingAndGlyphs">Xma</text>
<text x="254.98" y="661.62" font-size="12.26" font-weight="bold" font-family="Liberation Mono" fill="#000" stroke="#000" stroke-width="0.75" textLength="6.44" lengthAdjust="spacingAndGlyphs">I</text>
<text x="209.9" y="676.61" font-size="11.34" fill="#000" stroke="#000" stroke-width="0.18" textLength="37.11" lengthAdjust="spacingAndGlyphs">(3666)</text>
<text x="256" y="676.61" font-size="12.45" font-weight="bold" fill="#000" stroke="#000" stroke-width="0.3" textLength="25.71" lengthAdjust="spacingAndGlyphs">Nae</text>
<text x="281.71" y="676.61" font-size="12.26" font-weight="bold" font-family="Liberation Mono" fill="#000" stroke="#000" stroke-width="0.75" textLength="6.44" lengthAdjust="spacingAndGlyphs">I</text>
<text x="217.2" y="691.61" font-size="11.34" fill="#000" stroke="#000" stroke-width="0.18" textLength="37.11" lengthAdjust="spacingAndGlyphs">(3664)</text>
<text x="263.3" y="691.61" font-size="12.45" font-weight="bold" fill="#000" stroke="#000" stroke-width="0.3" textLength="37.54" lengthAdjust="spacingAndGlyphs">NgoM</text>
<text x="300.84" y="691.61" font-size="12.26" font-weight="bold" font-family="Liberation Mono" fill="#000" stroke="#000" stroke-width="0.75" textLength="6.44" lengthAdjust="spacingAndGlyphs">I</text>
<text x="307.28" y="691.61" font-size="12.45" font-weight="bold" fill="#000" stroke="#000" stroke-width="0.3" textLength="9.02" lengthAdjust="spacingAndGlyphs">V</text>
<text x="271" y="706.6" font-size="11.34" fill="#000" stroke="#000" stroke-width="0.18" textLength="37.11" lengthAdjust="spacingAndGlyphs">(3608)</text>
<text x="317.1" y="706.6" font-size="12.45" font-weight="bold" fill="#000" stroke="#000" stroke-width="0.3" textLength="32.86" lengthAdjust="spacingAndGlyphs">BsaB</text>
<text x="349.96" y="706.6" font-size="12.26" font-weight="bold" font-family="Liberation Mono" fill="#000" stroke="#000" stroke-width="0.75" textLength="6.44" lengthAdjust="spacingAndGlyphs">I</text>
<text x="359.5" y="706.6" font-size="12.45" fill="#000" stroke="#000" stroke-width="0.18" textLength="7.5" lengthAdjust="spacingAndGlyphs">*</text>
<rect x="683.3" y="481.9" width="105.6" height="13.7" rx="3.5" ry="3.5" fill="#a9cdd8" stroke="#2e8aa6" stroke-width="1"/>
<text x="686.5" y="491.8" font-size="12.5" fill="#000" stroke="#000" stroke-width="0.18" textLength="96.66" lengthAdjust="spacingAndGlyphs">CAP binding site</text>
<rect x="663.1" y="525.8" width="77.1" height="13.6" rx="3.5" ry="3.5" fill="#a9cdd8" stroke="#2e8aa6" stroke-width="1"/>
<text x="665.9" y="535.8" font-size="12.5" fill="#000" stroke="#000" stroke-width="0.18" textLength="71.46" lengthAdjust="spacingAndGlyphs">lac operator</text>
<text x="369.39" y="377.1" font-size="14.72" font-weight="bold" fill="#000" stroke="#000" stroke-width="0.3" textLength="9.75" lengthAdjust="spacingAndGlyphs">p</text><text x="379.14" y="377.1" font-size="14.5" font-weight="bold" font-family="Liberation Mono" fill="#000" stroke="#000" stroke-width="0.75" textLength="7.62" lengthAdjust="spacingAndGlyphs">I</text><text x="386.76" y="377.1" font-size="14.72" font-weight="bold" fill="#000" stroke="#000" stroke-width="0.3" textLength="61.95" lengthAdjust="spacingAndGlyphs">RGAL3C</text><text x="387.39" y="390.8" font-size="11.34" fill="#000" stroke="#000" stroke-width="0.18" textLength="44.53" lengthAdjust="spacingAndGlyphs">6817 bp</text>
<text x="800.8" y="10.6" font-size="7.8" fill="#adadad" textLength="36.7" lengthAdjust="spacingAndGlyphs">Created by</text><path d="M840.6 2 L846.2 1.6 Q848 3.2 847.4 5.6 L844.6 6.6 L843.6 12.4 L842 12.4 Z" fill="#86d3f7"/><text x="849.9" y="10.6" font-size="10.2" fill="#87909d" textLength="43.5" lengthAdjust="spacingAndGlyphs">SnapGene</text>
</svg>
</body></html>
